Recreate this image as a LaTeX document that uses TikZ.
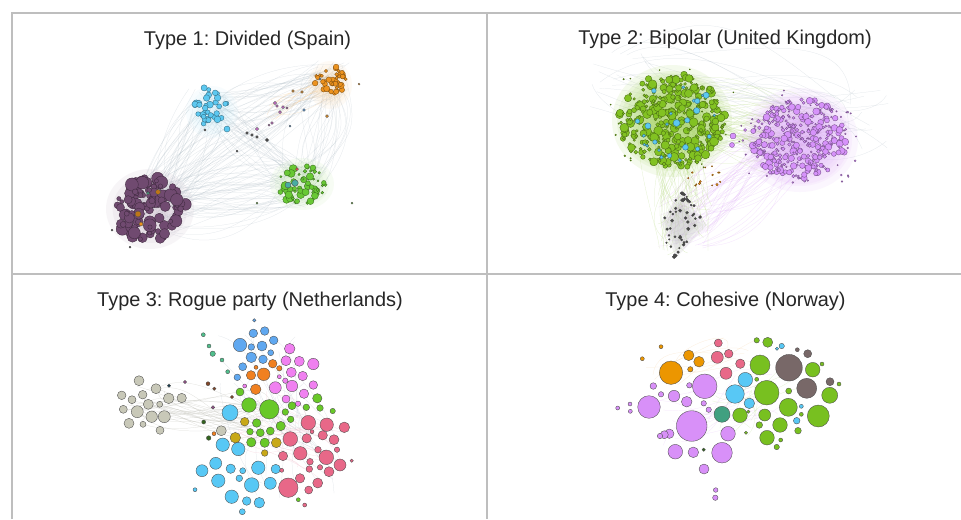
\documentclass[tikz,border=0pt]{standalone}
\usepackage{fontspec}
\setmainfont{Liberation Sans}
\frenchspacing

\definecolor{plum}{RGB}{112,74,112}
\definecolor{cyanA}{RGB}{92,200,240}
\definecolor{amber}{RGB}{236,146,30}
\definecolor{leafA}{RGB}{104,200,52}
\definecolor{pinkA}{RGB}{212,112,212}
\definecolor{leafB}{RGB}{130,194,34}
\definecolor{lilac}{RGB}{214,146,250}
\definecolor{coal}{RGB}{70,70,70}
\definecolor{stone}{RGB}{200,200,184}
\definecolor{azure}{RGB}{96,168,240}
\definecolor{sky}{RGB}{88,200,245}
\definecolor{tang}{RGB}{240,128,32}
\definecolor{orchid}{RGB}{240,128,240}
\definecolor{lime}{RGB}{104,200,40}
\definecolor{olive}{RGB}{200,168,24}
\definecolor{rose}{RGB}{232,104,136}
\definecolor{violet}{RGB}{216,144,248}
\definecolor{teal}{RGB}{64,160,128}
\definecolor{taupe}{RGB}{120,104,104}
\definecolor{grass}{RGB}{120,192,32}
\definecolor{gold}{RGB}{236,150,0}
\definecolor{seafoam}{RGB}{80,190,140}
\definecolor{rust}{RGB}{130,70,40}
\definecolor{moss}{RGB}{50,100,30}
\definecolor{mauve}{RGB}{150,80,140}
\definecolor{ink}{RGB}{20,60,80}
\definecolor{gridgray}{RGB}{190,190,190}
\definecolor{edgegray}{RGB}{170,185,195}

% a cloud of party nodes: colour, centre x, y, radius x, y, count, smallest, largest
\newcommand{\swarm}[8]{%
  \foreach \k in {1,...,#6}{
    \pgfmathsetmacro{\ang}{360*rnd}
    \pgfmathsetmacro{\dst}{sqrt(rnd)}
    \pgfmathsetmacro{\rad}{#7+(#8-#7)*rnd^1.5}
    \draw[party, draw=#1!55!black, fill=#1] ({#2+#4*\dst*cos(\ang)},{#3+#5*\dst*sin(\ang)}) circle (\rad);
  }}

% soft glow of ties under a cloud: colour, centre x, y, radius x, y
\newcommand{\haze}[5]{%
  \foreach \s in {1,.85,.7,.55,.4}
    \fill[#1, opacity=.1] (#2,#3) ellipse [x radius=\s*#4, y radius=\s*#5];
}

% faint curved ties: colour, from x, y, to x, y, count, spread, bend
\newcommand{\links}[8]{%
  \foreach \k in {1,...,#6}{
    \pgfmathsetmacro{\sx}{#2+#7*(rnd-.5)}
    \pgfmathsetmacro{\sy}{#3+#7*(rnd-.5)}
    \pgfmathsetmacro{\ex}{#4+#7*(rnd-.5)}
    \pgfmathsetmacro{\ey}{#5+#7*(rnd-.5)}
    \pgfmathsetmacro{\ux}{\sx+(\ex-\sx)/3+#8*(rnd-.5)}
    \pgfmathsetmacro{\uy}{\sy+(\ey-\sy)/3+#8*(rnd-.5)}
    \pgfmathsetmacro{\vx}{\sx+2*(\ex-\sx)/3+#8*(rnd-.5)}
    \pgfmathsetmacro{\vy}{\sy+2*(\ey-\sy)/3+#8*(rnd-.5)}
    \draw[wire, draw=#1] (\sx,\sy) .. controls (\ux,\uy) and (\vx,\vy) .. (\ex,\ey);
  }}

\begin{document}
\begin{tikzpicture}[x=0.03cm,y=-0.03cm]
        \tikzstyle{party} = [draw=black!70, line width=0.3pt]
        \tikzstyle{wire} = [line width=0.2pt, opacity=0.35]
        \tikzstyle{frame} = [draw=gridgray, line width=1.3pt]
        \tikzstyle{title} = [font=\fontsize{17}{20}\selectfont, text=black!85, anchor=base]
        \pgfmathsetseed{42}

        \useasboundingbox[fill=white] (0,0) rectangle (961,519);

        % panels
        \draw[frame] (12,519) -- (12,13) -- (961,13);
        \draw[frame] (487,13) -- (487,519);
        \draw[frame] (12,274) -- (961,274);

        \node[title] (t1) at (247.5,45) {Type 1: Divided (Spain)};
        \node[title] (t2) at (725,44.5) {Type 2: Bipolar (United Kingdom)};
        \node[title] (t3) at (250,306.5) {Type 3: Rogue party (Netherlands)};
        \node[title] (t4) at (725.5,306.5) {Type 4: Cohesive (Norway)};

        %% Type 1
        \links{edgegray}{150}{209}{302}{184}{45}{50}{90}
        \links{edgegray}{150}{209}{208}{107}{30}{40}{60}
        \links{edgegray}{150}{209}{330}{80}{25}{40}{110}
        \links{edgegray}{208}{107}{330}{80}{20}{30}{60}
        \links{edgegray}{302}{184}{330}{80}{25}{30}{80}
        \links{edgegray}{208}{107}{302}{184}{20}{30}{60}
        \links{amber!60}{330}{80}{275}{110}{12}{20}{30}
        \haze{plum!50}{150}{209}{44}{40}
        \haze{leafA!50}{302}{184}{32}{26}
        \haze{cyanA!40}{212}{112}{26}{26}
        \haze{amber!40}{330}{85}{22}{24}

        \swarm{plum}{150}{209}{36}{32}{115}{2}{6.5}
        \foreach \x/\y/\r in {138/214/3, 158/192/2.5}
            \draw[party, fill=amber!80!black] (\x,\y) circle (\r);
        \draw[party, fill=amber] (141,224) circle (2);
        \draw[party, fill=teal] (148,193) circle (1.5);
        \swarm{cyanA}{208}{106}{20}{19}{34}{2}{3.5}
        \draw[party, draw=cyanA!55!black, fill=cyanA] (227,129) circle (3);
        \swarm{amber}{330}{80}{17}{14}{42}{1.5}{3.4}
        \foreach \x/\y/\r in {293/91/1.3, 302/92/1.3, 327/116/1.5, 359/84/1}
            \draw[party, fill=amber] (\x,\y) circle (\r);
        \foreach \x/\y/\r in {275/103/1.7, 283/107/1.5, 280/112/1.5, 277/106/1.3, 287/108/1.2, 257/129/1.7, 272/123/1.3, 269/125/1}
            \draw[party, fill=pinkA] (\x,\y) circle (\r);
        \foreach \x/\y/\r in {304/110/1.3, 290/126/1, 320/79/1.2}
            \draw[party, fill=azure] (\x,\y) circle (\r);
        \foreach \x/\y/\r in {247/133/1.3, 252/135/1.3, 257/137/1.3, 267/140/1.7, 237/151/1, 205/130/1.2, 112/230/1, 130/247/1}
            \draw[party, fill=coal] (\x,\y) circle (\r);
        \swarm{leafA}{302}{184}{25}{20}{60}{1}{4.3}
        \foreach \x/\y/\r in {257/203/1, 352/203/1}
            \draw[party, fill=leafA] (\x,\y) circle (\r);
        \draw[party, fill=teal!70!cyanA] (295,183) circle (3.3);
        \draw[party, fill=teal!70!cyanA] (288,185) circle (3);
        \draw[party, fill=red!70] (297,169) circle (1.5);

        %% Type 2
        \links{leafB!70}{672}{121}{800}{140}{60}{70}{90}
        \links{lilac!80}{683}{225}{800}{140}{45}{50}{90}
        \links{leafB!70}{683}{225}{672}{121}{45}{60}{70}
        \links{edgegray}{620}{80}{860}{120}{25}{60}{150}
        \haze{leafB!80}{672}{121}{60}{56}
        \haze{leafB!80}{672}{121}{55}{50}
        \haze{lilac!80}{800}{140}{58}{52}
        \haze{lilac!80}{800}{140}{52}{46}
        \foreach \s in {1,.8,.6}
            \fill[coal!50, opacity=.15] ({683-3*\s},{192+33*(1-\s)}) -- ({683+24*\s},225) -- ({676},{258-33*(1-\s)}) -- ({683-22*\s},222) -- cycle;

        \swarm{leafB}{672}{121}{72}{62}{25}{.5}{1}
        \swarm{leafB}{672}{121}{53}{48}{360}{1.2}{4.6}
        \swarm{cyanA}{672}{121}{45}{42}{25}{1.2}{3.8}
        \swarm{lilac}{800}{140}{68}{54}{45}{.6}{1}
        \swarm{lilac}{800}{140}{48}{42}{320}{.8}{3.6}
        \foreach \x/\y/\r in {733/136/3, 732/145/2.5, 745/130/1.5}
            \draw[party, draw=lilac!55!black, fill=lilac] (\x,\y) circle (\r);
        \swarm{amber}{705}{175}{22}{12}{15}{.6}{1.2}
        \foreach \k in {1,...,55}{
            \pgfmathsetmacro{\t}{rnd}
            \pgfmathsetmacro{\hw}{19*sin(180*\t)}
            \draw[party, fill=coal] ({682-8*\t+4*sin(180*\t)+\hw*(2*rnd-1)},{192+65*\t}) circle ({0.8+rnd});
        }

        %% Type 3
        \links{stone!80!black}{145}{405}{260}{420}{30}{40}{60}
        \links{edgegray}{260}{380}{300}{460}{30}{90}{60}
        \links{rose!60}{320}{450}{260}{420}{20}{60}{40}
        \foreach \x/\y/\r in {139/380.7/5, 156/388.7/5, 121.7/395.3/4.3, 132/399.7/4, 142.7/394.7/4.3, 148.3/404.3/5, 159.7/404.3/3, 168.7/398.3/5.3, 181.7/398/4.7, 123.3/409.3/4, 137.3/411.7/6, 151.7/416.7/5.7, 164.3/416.7/6, 129/423.3/5, 143/424.3/3, 160/430.3/4, 221.3/430.7/5}
            \draw[party, fill=stone] (\x,\y) circle (\r);
        \foreach \x/\y/\r in {203.3/334.7/2, 209/346/2, 212.7/353.7/2.7, 222/360/2, 227.7/371.7/2}
            \draw[party, fill=seafoam] (\x,\y) circle (\r);
        \foreach \x/\y/\r in {208/383.7/2, 214.3/388.7/1.7, 232/397/1.7}
            \draw[party, fill=rust] (\x,\y) circle (\r);
        \foreach \x/\y/\r in {203.7/422/2, 208.7/438/2.3}
            \draw[party, fill=moss] (\x,\y) circle (\r);
        \foreach \x/\y/\r in {185/382/1.7, 213/407.3/1.7}
            \draw[party, fill=mauve] (\x,\y) circle (\r);
        \draw[party, fill=ink] (169,385.7) circle (1.7);
        \foreach \x/\y/\r in {230/412.7/8, 222.7/444.7/6.7, 202/470.7/6, 215.7/463.3/6, 230.7/468.7/4.7, 218.3/480.7/6.7, 231.7/496.7/6.7, 195/489.7/2, 238.3/449/6.7, 258.3/467.7/6.7, 275.7/469/4.7, 242.7/470.7/3, 239.3/478.3/3.3, 251.7/485/7.3, 270.3/483.3/6, 246.7/501/4.3, 259.3/502.7/5.3, 242.3/511.7/3}
            \draw[party, fill=sky] (\x,\y) circle (\r);
        \foreach \x/\y/\r in {254.3/320.3/1.7, 253.3/333.3/4.3, 264.7/331/4.3, 240/345/6.7, 251.3/347/3.3, 262/346/5, 273.7/340.3/4.3, 251.3/357.3/5.3, 263/359.3/4.3, 270.7/352.7/3, 242.7/366.7/4, 237.3/377.3/3.3}
            \draw[party, fill=azure] (\x,\y) circle (\r);
        \foreach \x/\y/\r in {263.7/374.3/6.3, 251/375.3/4.7, 255.7/389.3/5.3, 272.7/363.7/4.3, 279.3/368.3/2.7, 256/367.3/2, 214/433.7/2}
            \draw[party, fill=tang] (\x,\y) circle (\r);
        \foreach \x/\y/\r in {289.7/348.7/5.3, 286/360.7/5, 299.3/361.3/5, 313.3/364/5.7, 291.3/372.3/5, 302.7/376/4.7, 279.3/376.7/2, 285.3/380.7/2.7, 275.3/387.7/6, 292/386/5.7, 313.3/385/4.3, 304/393.7/4.7, 286/399/4, 298/403.7/2.7, 244.7/386/2}
            \draw[party, fill=orchid] (\x,\y) circle (\r);
        \foreach \x/\y/\r in {249/405/7.3, 269.3/409.3/9.7, 240/392/4, 292/405.7/4, 285.3/412/3.3, 290.7/419.3/3.3, 280.7/426/4.7, 256.7/423/4.3, 250/431.7/3.3, 260.3/432.7/4, 270.3/431/4, 251.3/442.3/4.7, 264.7/442.7/4.7, 317.3/398.3/4.7, 306.3/407.3/3.3, 320/408/3.3, 332.7/411/2.7, 298.3/499.7/2}
            \draw[party, fill=lime] (\x,\y) circle (\r);
        \foreach \x/\y/\r in {244.7/421.7/4.3, 235.3/437.7/5.3, 276.3/442.7/5, 264.7/453/3.3}
            \draw[party, fill=olive] (\x,\y) circle (\r);
        \foreach \x/\y/\r in {308.3/422.7/7.3, 326.7/424.7/6.7, 344.3/427.3/5.3, 290.3/439/7.3, 306.7/438.3/4.7, 322.7/435.3/4.7, 334/439.7/5, 300.3/453.3/6.7, 318/449.7/3.3, 326.3/457.3/7.3, 340/465/6, 283/456/4.7, 310/461.7/3.3, 309.3/469/3.3, 320/467.3/2.7, 329/471.7/5, 317.7/483/5, 300/478.3/4.7, 288.3/487.7/9.7, 308.7/490/4, 337/449.7/2.7, 351.7/460.7/1.7, 304.7/505/2, 281.7/470.3/2, 312/431.7/2}
            \draw[party, fill=rose] (\x,\y) circle (\r);

        %% Type 4
        \links{violet!70}{680}{420}{760}{400}{15}{60}{60}
        \links{amber!50}{660}{370}{740}{350}{8}{40}{60}
        \links{grass!60}{780}{400}{730}{420}{10}{60}{40}
        \foreach \x/\y/\r in {671/372.7/11.7, 688.7/355.3/5.3, 699/361.7/5.3, 690.3/369.3/2.7, 661/346.7/2, 642.3/358.7/2}
            \draw[party, fill=gold] (\x,\y) circle (\r);
        \foreach \x/\y/\r in {718.3/343/4, 717.3/357.3/6, 728.7/353.7/4.3, 740.3/363.7/4.7, 726/373.3/6}
            \draw[party, fill=rose] (\x,\y) circle (\r);
        \foreach \x/\y/\r in {704.7/386.3/12.3, 649/407/11.3, 691.7/426/15.3, 653.3/386/3.3, 661/394.3/2.7, 674/396/5.7, 689.3/385.3/2.7, 686.7/401.7/5.3, 703.7/403.3/2.7, 708.7/409.7/2.7, 630/404/2, 630.3/411.3/2, 617.7/408/2, 728/433.7/7.3, 722/452.7/10.3, 675.3/451.7/7.3, 693.3/452.3/5.3, 704/469/5, 669.3/433.7/4.7, 664.3/434.7/4, 660/436/2.7, 715.7/490/2.3, 715.3/497.7/2.7}
            \draw[party, fill=violet] (\x,\y) circle (\r);
        \draw[party, fill=teal] (722,414.3) circle (8);
        \draw[party, fill=moss] (703.7,449.7) circle (1.7);
        \foreach \x/\y/\r in {745.3/379.7/7.3, 735/394/9.3, 749.3/403.3/5.3, 781.7/346/2.7, 777/348.7/1.7, 801.3/406.3/2, 796.7/420.7/3.3}
            \draw[party, fill=sky] (\x,\y) circle (\r);
        \foreach \x/\y/\r in {767.7/342.3/5, 756.7/340.3/2.7, 760/365/10, 766.7/392.7/12.3, 812.7/369.7/7.3, 822/364/2, 740/415.3/7.3, 756.7/379.3/2, 748.3/411.7/1.7, 788.7/391/3, 788.3/407.3/9, 764.7/415/6, 780/425/7.3, 759.3/425/3.3, 767/437.7/7.3, 780.7/440/2, 776.7/447/2.7, 798/430.7/3.3, 801.3/414.3/2, 829.7/395.3/8, 818.3/416/11, 839/384/2, 746/432.7/1.7}
            \draw[party, fill=grass] (\x,\y) circle (\r);
        \foreach \x/\y/\r in {789/367.7/13.3, 806.7/388.3/10, 807.7/353.7/4, 797.3/349.7/2, 830/381.7/4}
            \draw[party, fill=taupe] (\x,\y) circle (\r);

    \end{tikzpicture}
\end{document}
